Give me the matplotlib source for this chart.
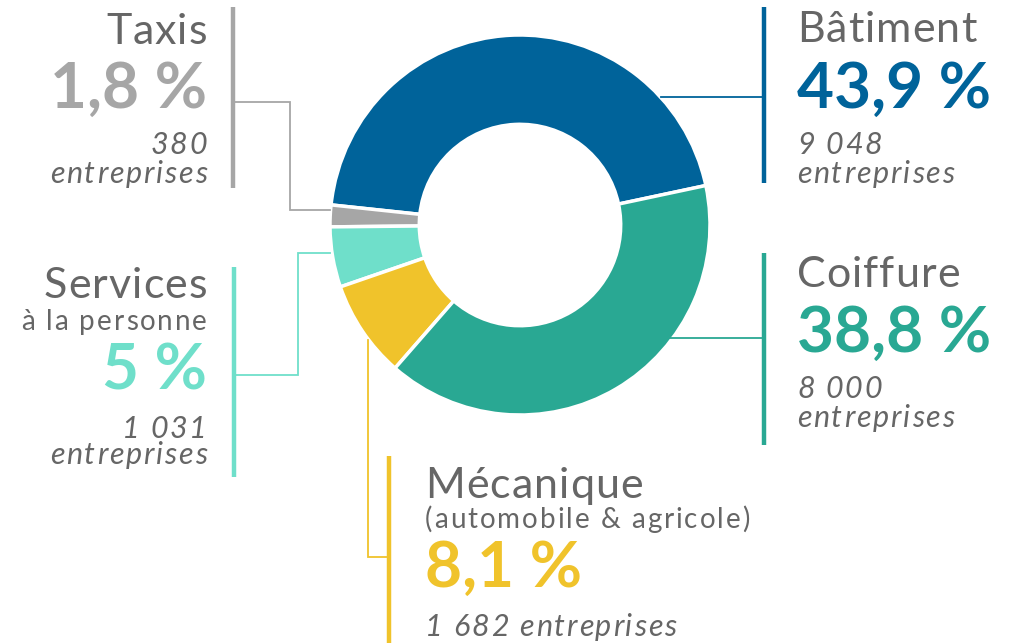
import matplotlib
matplotlib.use("Agg")
import matplotlib.pyplot as plt
from matplotlib.font_manager import FontProperties, findfont, get_font
try:
    from matplotlib.ft2font import LoadFlags, Kerning
    NOHINT, KERN = LoadFlags.NO_HINTING, Kerning.DEFAULT
except ImportError:
    from matplotlib.ft2font import LOAD_NO_HINTING as NOHINT, KERNING_DEFAULT as KERN

# data
sectors = ["Bâtiment", "Taxis", "Services", "Mécanique", "Coiffure"]
subtitles = ["", "", "à la personne", "(automobile & agricole)", ""]
shares = [43.9, 1.8, 5.0, 8.1, 38.8]
pct_labels = ["43,9 %", "1,8 %", "5 %", "8,1 %", "38,8 %"]
companies = ["9 048", "380", "1 031", "1 682", "8 000"]
colors = ["#00639a", "#a6a6a6", "#6fdfca", "#f0c32b", "#29a893"]

W, H = 1013, 643
fig = plt.figure(figsize=(W / 100, H / 100), dpi=100)

# donut
cx, cy, r = 520, 225, 190
ax = fig.add_axes([(cx - r) / W, 1 - (cy + r) / H, 2 * r / W, 2 * r / H])
ax.pie(shares, colors=colors, startangle=12, counterclock=True, radius=1,
       wedgeprops=dict(width=0.47, edgecolor="white", linewidth=2.5))
ax.set_xlim(-1, 1)
ax.set_ylim(-1, 1)

# overlay in pixel coords for labels / leader lines
ov = fig.add_axes([0, 0, 1, 1])
ov.set_xlim(0, W)
ov.set_ylim(H, 0)
ov.axis("off")
ov.patch.set_alpha(0)

gray = "#666666"
font = "Lato"


def tracked(x, y, s, size, track, ha="left", color=gray, **fp):
    # letter-spaced text: one Text per character, placed on the font's advances
    prop = FontProperties(family=font, size=size, **fp)
    ft = get_font(findfont(prop))
    ft.set_size(size, fig.dpi)
    pos, pen, prev = [], 0.0, None
    for c in s:
        idx = ft.get_char_index(ord(c))
        if prev is not None:
            pen += ft.get_kerning(prev, idx, KERN) / 64 + track
        pos.append(pen)
        pen += ft.load_char(ord(c), flags=NOHINT).linearHoriAdvance / 65536
        prev = idx
    x0 = x - pen if ha == "right" else x
    for c, p in zip(s, pos):
        if c != " ":
            ov.text(x0 + p, y, c, ha="left", va="baseline",
                    fontproperties=prop, color=color)


layout = {
    "Bâtiment": dict(x=797, ha="left", bar=(764, 7, 183),
                     path=[(661, 97), (764, 97)],
                     base=dict(title=42, pct=108, num=154, ent=183)),
    "Coiffure": dict(x=797, ha="left", bar=(764, 253, 445),
                     path=[(668, 338), (764, 338)],
                     base=dict(title=287, pct=352, num=398, ent=427)),
    "Taxis": dict(x=207, ha="right", bar=(233, 7, 188),
                  path=[(233, 102), (290, 102), (290, 210), (330, 210)],
                  base=dict(title=44, pct=108, num=154, ent=183)),
    "Services": dict(x=207, ha="right", bar=(234, 267, 477),
                     path=[(234, 375), (298, 375), (298, 253), (330, 253)],
                     base=dict(title=298, sub=330, pct=389, num=438, ent=464)),
    "Mécanique": dict(x=425, ha="left", bar=(389, 456, 643),
                      path=[(368, 340), (368, 557), (389, 557)],
                      base=dict(title=498, sub=528, pct=587, num=636)),
}

for name, sub, pct, num, col in zip(sectors, subtitles, pct_labels, companies, colors):
    L = layout[name]
    bx, by0, by1 = L["bar"]
    ov.plot([bx, bx], [by0, by1], color=col, lw=3.2, solid_capstyle="butt")
    xs, ys = zip(*L["path"])
    ov.plot(xs, ys, color=col, lw=1.3, solid_joinstyle="miter")
    b = L["base"]
    x, ha = L["x"], L["ha"]
    tracked(x, b["title"], name, 31, 1.0, ha=ha)
    if sub:
        tracked(x, b["sub"], sub, 20, 2.0, ha=ha)
    ov.text(x, b["pct"], pct, ha=ha, va="baseline", fontsize=46,
            color=col, family=font, fontweight="bold")
    if "ent" in b:
        tracked(x, b["num"], num, 22, 1.8, ha=ha, style="italic")
        tracked(x, b["ent"], "entreprises", 22, 1.8, ha=ha, style="italic")
    else:
        tracked(x, b["num"], num + " entreprises", 22, 1.8, ha=ha, style="italic")

fig.savefig("out.png", dpi=100)
